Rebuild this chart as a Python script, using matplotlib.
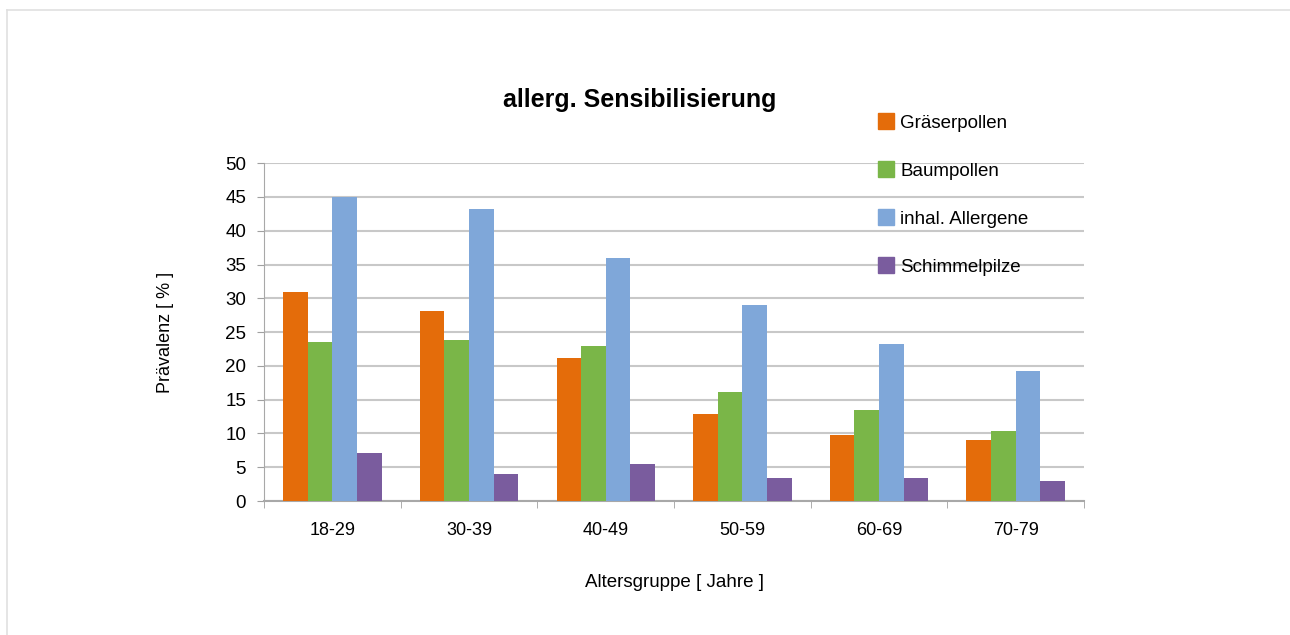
import matplotlib.pyplot as plt
import numpy as np
from matplotlib.lines import Line2D

plt.rcParams['font.family'] = ['Liberation Sans', 'DejaVu Sans']

# data
groups = ['18-29', '30-39', '40-49', '50-59', '60-69', '70-79']
graeserpollen = [31.0, 28.1, 21.1, 12.9, 9.8, 9.1]
baumpollen = [23.5, 23.8, 22.9, 16.2, 13.5, 10.4]
inhal_allergene = [45.0, 43.2, 36.0, 29.0, 23.2, 19.3]
schimmelpilze = [7.1, 4.0, 5.5, 3.4, 3.4, 2.9]

series_names = ['Gräserpollen', 'Baumpollen', 'inhal. Allergene', 'Schimmelpilze']
colors = ['#E46C0A', '#7AB648', '#7FA7D9', '#7A5C9E']

fig = plt.figure(figsize=(12.9, 6.35), dpi=100)
# light frame: only top and left edges show in the reference
fig.lines.append(Line2D([0.0055, 1.0], [0.984, 0.984], transform=fig.transFigure,
                        color='#e0e0e0', linewidth=1.2))
fig.lines.append(Line2D([0.0055, 0.0055], [0.0, 0.984], transform=fig.transFigure,
                        color='#e0e0e0', linewidth=1.2))

ax = fig.add_axes([0.2047, 0.211, 0.6356, 0.532])

x = np.arange(len(groups))
w = 0.18
all_series = [graeserpollen, baumpollen, inhal_allergene, schimmelpilze]
for i, vals in enumerate(all_series):
    ax.bar(x + (i - 1.5) * w, vals, width=w, color=colors[i], zorder=3)

ax.set_xlim(-0.5, len(groups) - 0.5)
ax.set_ylim(0, 50)
ax.set_yticks(np.arange(0, 51, 5))
ax.set_xticks(x)
ax.set_xticklabels(groups)
ax.set_xticks(np.arange(-0.5, len(groups)), minor=True)
ax.tick_params(axis='x', which='major', length=0, pad=15, labelsize=13)
ax.tick_params(axis='x', which='minor', length=5, color='#a0a0a0')
ax.tick_params(axis='y', length=5, color='#a0a0a0', labelsize=13.5, pad=8)

ax.grid(axis='y', color='#c8c8c8', linewidth=1.5, zorder=0)
for s in ['top', 'right']:
    ax.spines[s].set_visible(False)
ax.spines['left'].set_color('#a8a8a8')
ax.spines['bottom'].set_color('#a8a8a8')
ax.spines['bottom'].set_linewidth(1.5)

ax.set_ylabel('Prävalenz [ % ]', fontsize=13, labelpad=37)
ax.set_xlabel('Altersgruppe [ Jahre ]', fontsize=13.5, labelpad=25)

fig.text(0.4957, 0.842, 'allerg. Sensibilisierung', fontsize=18, fontweight='bold',
         ha='center', va='center')

handles = [Line2D([], [], marker='s', linestyle='none', markersize=11,
                  markerfacecolor=c, markeredgecolor=c) for c in colors]
fig.legend(handles, series_names, loc='upper left', bbox_to_anchor=(0.6665, 0.846),
           frameon=False, fontsize=13.5, labelspacing=1.65, handletextpad=0.25,
           handlelength=1.0)

plt.savefig('out.png')
